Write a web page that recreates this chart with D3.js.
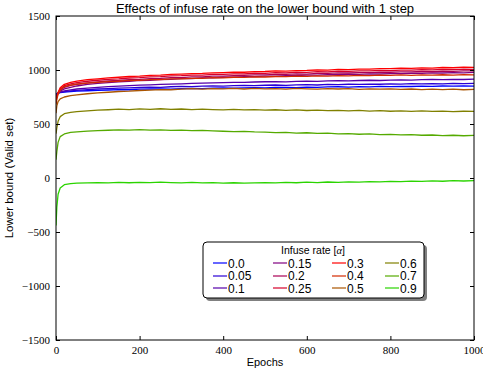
<!DOCTYPE html>
<html>
<head>
<meta charset="utf-8">
<script src="https://cdn.jsdelivr.net/npm/d3@7"></script>
<style>
  body { margin: 0; background: #fff; }
  svg { display: block; }
</style>
</head>
<body>
<div id="container"></div>
<script>
const epochs = [0, 2, 5, 10, 20, 35, 50, 75, 100,
  125, 150, 175, 200, 225, 250, 275, 300, 325, 350, 375, 400,
  425, 450, 475, 500, 525, 550, 575, 600, 625, 650, 675, 700,
  725, 750, 775, 800, 825, 850, 875, 900, 925, 950, 975, 1000];

const rates = ["0.0", "0.05", "0.1", "0.15", "0.2", "0.25", "0.3", "0.4", "0.5", "0.6", "0.7", "0.9"];

const s00 = [775, 782, 786, 790, 795, 800, 804, 808, 812,
  815, 819, 817, 822, 824, 826, 823, 828, 830, 827, 832, 834,
  831, 835, 837, 834, 838, 840, 837, 841, 839, 843, 845, 842,
  846, 844, 848, 846, 849, 847, 851, 849, 852, 850, 853, 851];
const s05 = [770, 780, 786, 792, 799, 806, 812, 818, 824,
  828, 832, 835, 838, 842, 840, 845, 848, 846, 851, 853, 850,
  855, 857, 855, 859, 861, 858, 862, 864, 861, 866, 864, 868,
  866, 870, 868, 871, 869, 873, 871, 874, 872, 876, 874, 877];
const s10 = [760, 775, 785, 795, 806, 816, 824, 833, 840,
  846, 851, 855, 860, 863, 866, 870, 872, 876, 878, 881, 883,
  886, 885, 889, 891, 893, 890, 895, 897, 895, 899, 901, 899,
  903, 905, 903, 907, 909, 906, 910, 912, 910, 914, 912, 916];
const s15 = [740, 765, 785, 805, 825, 840, 852, 866, 876,
  884, 891, 896, 903, 905, 912, 914, 920, 921, 927, 928, 933,
  934, 938, 939, 944, 944, 948, 949, 953, 952, 957, 956, 961,
  960, 964, 963, 967, 966, 970, 969, 973, 972, 976, 974, 978];
const s20 = [730, 760, 788, 815, 840, 857, 868, 880, 890,
  898, 903, 911, 913, 920, 922, 929, 930, 936, 937, 943, 944,
  948, 950, 954, 955, 959, 960, 964, 962, 969, 968, 973, 972,
  976, 976, 980, 979, 983, 983, 986, 984, 989, 988, 992, 991];
const s25 = [720, 755, 790, 825, 855, 872, 884, 896, 905,
  913, 918, 926, 930, 937, 939, 945, 947, 953, 952, 959, 960,
  965, 964, 970, 969, 976, 974, 980, 978, 985, 983, 989, 987,
  992, 991, 996, 994, 999, 998, 1003, 1001, 1006, 1004, 1008, 1006];
const s30 = [700, 745, 790, 835, 868, 885, 897, 910, 918,
  927, 933, 940, 944, 951, 953, 959, 962, 967, 968, 973, 976,
  980, 979, 985, 986, 991, 990, 995, 996, 1000, 999, 1005, 1004,
  1009, 1008, 1013, 1012, 1016, 1015, 1020, 1018, 1023, 1021, 1026, 1024];
const s40 = [680, 730, 775, 815, 845, 860, 869, 879, 886,
  893, 896, 903, 904, 911, 911, 917, 917, 923, 922, 929, 927,
  933, 931, 937, 935, 940, 938, 943, 941, 946, 944, 948, 946,
  950, 948, 952, 950, 954, 951, 955, 952, 956, 953, 957, 954];
const s50 = [600, 668, 708, 732, 750, 762, 770, 780, 788,
  794, 801, 804, 810, 813, 818, 817, 823, 827, 822, 828, 825,
  829, 824, 830, 826, 828, 823, 829, 825, 822, 828, 824, 827,
  821, 826, 822, 825, 820, 824, 819, 823, 818, 822, 817, 820];
const s60 = [410, 463, 525, 568, 595, 608, 615, 622, 628,
  632, 637, 634, 640, 636, 641, 635, 639, 633, 638, 634, 631,
  636, 630, 634, 628, 632, 627, 631, 625, 629, 623, 627, 621,
  626, 619, 624, 618, 622, 617, 621, 616, 620, 614, 618, 616];
const s70 = [170, 244, 330, 383, 408, 422, 428, 434, 439,
  442, 446, 443, 447, 444, 446, 441, 444, 439, 441, 436, 433,
  430, 432, 427, 425, 420, 423, 416, 419, 413, 415, 409, 411,
  405, 408, 402, 404, 399, 402, 396, 398, 393, 396, 391, 394];
const s90 = [-440, -270, -150, -92, -62, -53, -48, -46, -43,
  -45, -41, -44, -40, -43, -39, -42, -45, -41, -46, -43, -47,
  -44, -48, -45, -42, -46, -41, -44, -39, -42, -37, -40, -35,
  -38, -33, -36, -31, -34, -29, -32, -27, -30, -25, -28, -24];

const seriesValues = [s00, s05, s10, s15, s20, s25, s30, s40, s50, s60, s70, s90];
const yTicks = [-1500, -1000, -500, 0, 500, 1000, 1500];
const xTicks = [0, 200, 400, 600, 800, 1000];

const w = 483;
const h = 374;
const margin = { left: 56, right: 9, top: 16, bottom: 34 };

// brg colormap sampled at i/12
const brg = (t) => {
  const r = t <= 0.5 ? 2 * t : 2 * (1 - t);
  const g = t <= 0.5 ? 0 : 2 * t - 1;
  const b = t <= 0.5 ? 1 - 2 * t : 0;
  return d3.rgb(r * 255, g * 255, b * 255).formatHex();
};
const color = (i) => brg(i / 12);

const xScale = d3.scaleLinear().domain([0, 1000]).range([margin.left, w - margin.right]);
const yScale = d3.scaleLinear().domain([-1500, 1500]).range([h - margin.bottom, margin.top]);

const svg = d3.select("#container")
  .append("svg")
  .attr("width", w)
  .attr("height", h)
  .style("background-color", "#fff");

const serif = "'Liberation Serif', 'DejaVu Serif', serif";
const sans = "'Liberation Sans', Arial, sans-serif";

svg.append("defs").append("clipPath").attr("id", "clip")
  .append("rect")
  .attr("x", margin.left).attr("y", margin.top)
  .attr("width", w - margin.left - margin.right)
  .attr("height", h - margin.top - margin.bottom);

const line = d3.line()
  .x((d, i) => xScale(epochs[i]))
  .y((d) => yScale(d));

svg.append("g")
  .attr("clip-path", "url(#clip)")
  .selectAll("path")
  .data(seriesValues)
  .enter()
  .append("path")
  .attr("d", (d) => line(d))
  .attr("fill", "none")
  .attr("stroke", (d, i) => color(i))
  .attr("stroke-width", 1.3)
  .attr("stroke-linejoin", "round");

// axes, ticks pointing inward
const fmt = d3.format("d");
svg.append("g")
  .attr("transform", "translate(0," + yScale(-1500) + ")")
  .call(d3.axisBottom(xScale).tickValues(xTicks).tickSizeInner(-4).tickSizeOuter(0).tickPadding(6).tickFormat(fmt));
svg.append("g")
  .attr("transform", "translate(0," + yScale(1500) + ")")
  .call(d3.axisTop(xScale).tickValues(xTicks).tickSizeInner(-4).tickSizeOuter(0).tickFormat(""));
svg.append("g")
  .attr("transform", "translate(" + margin.left + ",0)")
  .call(d3.axisLeft(yScale).tickValues(yTicks).tickSizeInner(-4).tickSizeOuter(0).tickPadding(6).tickFormat(fmt));
svg.append("g")
  .attr("transform", "translate(" + (w - margin.right) + ",0)")
  .call(d3.axisRight(yScale).tickValues(yTicks).tickSizeInner(-4).tickSizeOuter(0).tickFormat(""));

svg.selectAll(".domain").attr("stroke", "none");
svg.selectAll(".tick line").attr("stroke", "#000");
svg.selectAll(".tick text").attr("font-family", serif).attr("font-size", 11).attr("fill", "#000");

svg.append("rect")
  .attr("x", margin.left).attr("y", margin.top)
  .attr("width", w - margin.left - margin.right)
  .attr("height", h - margin.top - margin.bottom)
  .attr("fill", "none")
  .attr("stroke", "#000")
  .attr("stroke-width", 1);

svg.append("text")
  .attr("x", (margin.left + w - margin.right) / 2)
  .attr("y", 13)
  .attr("text-anchor", "middle")
  .attr("font-family", sans)
  .attr("font-size", 13)
  .text("Effects of infuse rate on the lower bound with 1 step");

svg.append("text")
  .attr("x", (margin.left + w - margin.right) / 2)
  .attr("y", 366)
  .attr("text-anchor", "middle")
  .attr("font-family", sans)
  .attr("font-size", 11)
  .text("Epochs");

svg.append("text")
  .attr("transform", "translate(13," + yScale(0) + ") rotate(-90)")
  .attr("text-anchor", "middle")
  .attr("font-family", sans)
  .attr("font-size", 11.5)
  .text("Lower bound (Valid set)");

// legend
const lg = svg.append("g").attr("transform", "translate(203,242)");
lg.append("rect")
  .attr("x", 3).attr("y", 3).attr("width", 221).attr("height", 56)
  .attr("rx", 4).attr("fill", "#808080");
lg.append("rect")
  .attr("x", 0).attr("y", 0).attr("width", 221).attr("height", 56)
  .attr("rx", 4).attr("fill", "#fff").attr("stroke", "#000").attr("stroke-width", 1);

const lt = lg.append("text")
  .attr("x", 110).attr("y", 12)
  .attr("text-anchor", "middle")
  .attr("font-family", sans)
  .attr("font-size", 10.5);
lt.append("tspan").text("Infuse rate [");
lt.append("tspan").attr("font-family", serif).attr("font-style", "italic").text("α");
lt.append("tspan").text("]");

const colX = [10, 70, 129, 182];
const rowY = [21, 33.5, 46];
const items = lg.selectAll("g.item")
  .data(rates.map((r, i) => ({ label: r, idx: i })))
  .enter()
  .append("g")
  .attr("class", "item")
  .attr("transform", (d) => "translate(" + colX[Math.floor(d.idx / 3)] + "," + rowY[d.idx % 3] + ")");
items.append("line")
  .attr("x1", 0).attr("x2", 14)
  .attr("y1", (d) => Math.round(rowY[d.idx % 3]) - rowY[d.idx % 3])
  .attr("y2", (d) => Math.round(rowY[d.idx % 3]) - rowY[d.idx % 3])
  .attr("stroke", (d) => color(d.idx))
  .attr("stroke-width", 1.2);
items.append("text")
  .attr("x", 15).attr("y", 4.5)
  .attr("font-family", sans)
  .attr("font-size", 12)
  .text((d) => d.label);
</script>
</body>
</html>
